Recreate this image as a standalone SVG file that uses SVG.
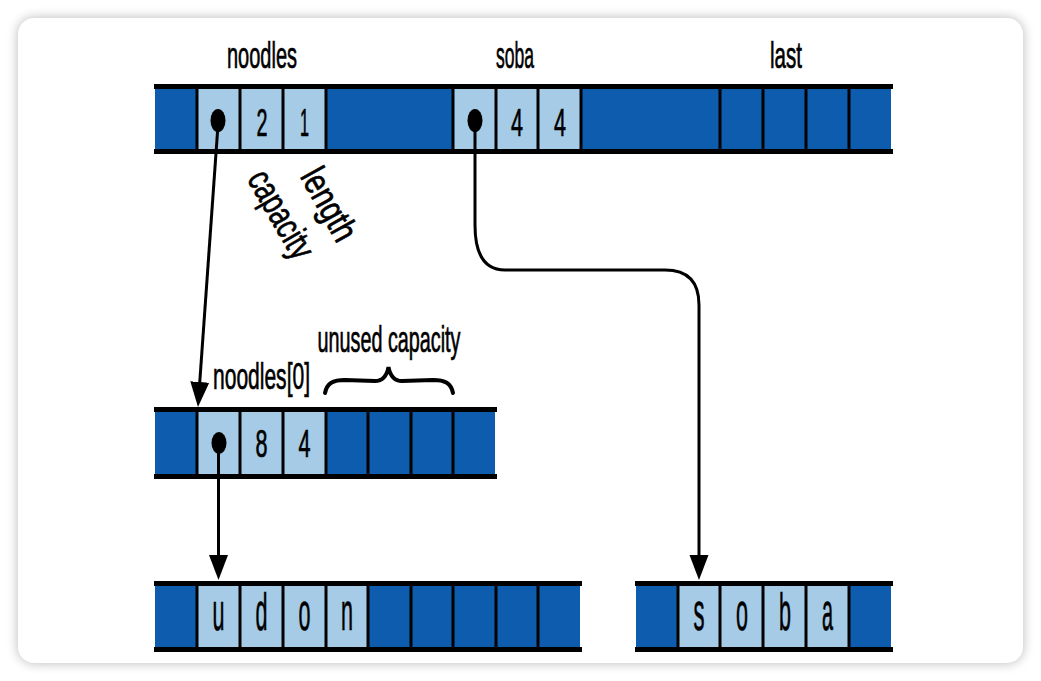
<svg xmlns="http://www.w3.org/2000/svg" width="1041" height="681" viewBox="0 0 1041 681">
<style>
.dk{fill:#0d5cae}
.lt{fill:#a6cbe6}
.dv{stroke:#000;stroke-width:3}
.rl{stroke:#000;stroke-width:5;stroke-linecap:butt}
.t{font-family:"Liberation Sans",Arial,sans-serif;fill:#000;stroke:#000;stroke-width:0.7;text-anchor:middle}
.lab{font-size:37px}
.dig{font-size:38px}
.let{font-size:51px}
.con{fill:none;stroke:#000;stroke-width:3}
</style>
<defs>
<filter id="sh" x="-5%" y="-5%" width="110%" height="110%"><feGaussianBlur stdDeviation="6"/></filter>
<marker id="ah" markerUnits="userSpaceOnUse" markerWidth="26" markerHeight="20" refX="5" refY="9.5" orient="auto" viewBox="0 0 26 19"><path d="M0,0 L25,9.5 L0,19 Z" fill="#000"/></marker>
</defs>
<rect width="1041" height="681" fill="#ffffff"/>
<rect x="18" y="18" width="1005" height="645" rx="16" fill="#000" opacity="0.28" filter="url(#sh)"/>
<rect x="18" y="18" width="1005" height="645" rx="16" fill="#ffffff"/>

<g id="labels-top">
<text class="t lab" x="262" y="68" textLength="70" lengthAdjust="spacingAndGlyphs">noodles</text>
<text class="t lab" x="515" y="68" textLength="38" lengthAdjust="spacingAndGlyphs">soba</text>
<text class="t lab" x="786" y="68" textLength="32" lengthAdjust="spacingAndGlyphs">last</text>
</g>

<g id="stack">
<rect class="dk" x="155" y="87" width="736" height="65"/>
<rect class="lt" x="197" y="87" width="129" height="65"/>
<rect class="lt" x="453" y="87" width="128" height="65"/>
<g class="dv">
<line x1="197" y1="87" x2="197" y2="152"/><line x1="240" y1="87" x2="240" y2="152"/><line x1="283" y1="87" x2="283" y2="152"/><line x1="326" y1="87" x2="326" y2="152"/>
<line x1="453" y1="87" x2="453" y2="152"/><line x1="496" y1="87" x2="496" y2="152"/><line x1="538" y1="87" x2="538" y2="152"/><line x1="581" y1="87" x2="581" y2="152"/>
<line x1="720" y1="87" x2="720" y2="152"/><line x1="763" y1="87" x2="763" y2="152"/><line x1="806" y1="87" x2="806" y2="152"/><line x1="849" y1="87" x2="849" y2="152"/>
</g>
<line class="rl" x1="154" y1="86.5" x2="893" y2="86.5"/>
<line class="rl" x1="154" y1="151.5" x2="893" y2="151.5"/>
<text class="t dig" x="262" y="136" textLength="11" lengthAdjust="spacingAndGlyphs">2</text>
<text class="t dig" x="304.5" y="136" textLength="9" lengthAdjust="spacingAndGlyphs">1</text>
<text class="t dig" x="517" y="136" textLength="12" lengthAdjust="spacingAndGlyphs">4</text>
<text class="t dig" x="560" y="136" textLength="12" lengthAdjust="spacingAndGlyphs">4</text>
<ellipse cx="218" cy="120.5" rx="7.5" ry="11.5"/>
<ellipse cx="475" cy="120.5" rx="7.5" ry="11.5"/>
</g>

<g id="field-labels">
<text class="t lab" transform="translate(280,215) rotate(60)" x="0" y="11" textLength="96" lengthAdjust="spacingAndGlyphs">capacity</text>
<text class="t lab" transform="translate(328,205) rotate(61)" x="0" y="11" textLength="78" lengthAdjust="spacingAndGlyphs">length</text>
</g>

<g id="heap-vec">
<rect class="dk" x="155" y="410" width="340" height="66"/>
<rect class="lt" x="197" y="410" width="129" height="66"/>
<g class="dv">
<line x1="197" y1="410" x2="197" y2="476"/><line x1="240" y1="410" x2="240" y2="476"/><line x1="283" y1="410" x2="283" y2="476"/><line x1="326" y1="410" x2="326" y2="476"/>
<line x1="368" y1="410" x2="368" y2="476"/><line x1="411" y1="410" x2="411" y2="476"/><line x1="453" y1="410" x2="453" y2="476"/>
</g>
<line class="rl" x1="154" y1="409.5" x2="497" y2="409.5"/>
<line class="rl" x1="154" y1="476.5" x2="497" y2="476.5"/>
<text class="t dig" x="261.5" y="457" textLength="12" lengthAdjust="spacingAndGlyphs">8</text>
<text class="t dig" x="304.5" y="457" textLength="12" lengthAdjust="spacingAndGlyphs">4</text>
<ellipse cx="219" cy="443" rx="7.5" ry="11"/>
<text class="t lab" x="261.5" y="389" textLength="97" lengthAdjust="spacingAndGlyphs">noodles[0]</text>
<text class="t lab" x="389" y="352" textLength="143" lengthAdjust="spacingAndGlyphs">unused capacity</text>
<path d="M325,393 C327,383 333,380 345,380 L375,381 C383,381 387,375 388.5,367 C390,375 394,381 402,381 L433,380 C445,380 451,383 453,393" fill="none" stroke="#000" stroke-width="4" stroke-linecap="round"/>
</g>

<g id="udon">
<rect class="dk" x="155" y="584" width="425" height="66"/>
<rect class="lt" x="197" y="584" width="171" height="66"/>
<g class="dv">
<line x1="197" y1="584" x2="197" y2="650"/><line x1="240" y1="584" x2="240" y2="650"/><line x1="283" y1="584" x2="283" y2="650"/><line x1="326" y1="584" x2="326" y2="650"/>
<line x1="368" y1="584" x2="368" y2="650"/><line x1="411" y1="584" x2="411" y2="650"/><line x1="453" y1="584" x2="453" y2="650"/><line x1="496" y1="584" x2="496" y2="650"/><line x1="538" y1="584" x2="538" y2="650"/>
</g>
<line class="rl" x1="154" y1="583.5" x2="582" y2="583.5"/>
<line class="rl" x1="154" y1="649.5" x2="582" y2="649.5"/>
<text class="t let" x="218.5" y="630" textLength="12" lengthAdjust="spacingAndGlyphs">u</text>
<text class="t let" x="261.5" y="630" textLength="12" lengthAdjust="spacingAndGlyphs">d</text>
<text class="t let" x="304.5" y="630" textLength="12" lengthAdjust="spacingAndGlyphs">o</text>
<text class="t let" x="347" y="630" textLength="12" lengthAdjust="spacingAndGlyphs">n</text>
</g>

<g id="soba-str">
<rect class="dk" x="636" y="584" width="255" height="66"/>
<rect class="lt" x="678" y="584" width="171" height="66"/>
<g class="dv">
<line x1="678" y1="584" x2="678" y2="650"/><line x1="720" y1="584" x2="720" y2="650"/><line x1="763" y1="584" x2="763" y2="650"/><line x1="806" y1="584" x2="806" y2="650"/><line x1="849" y1="584" x2="849" y2="650"/>
</g>
<line class="rl" x1="635" y1="583.5" x2="893" y2="583.5"/>
<line class="rl" x1="635" y1="649.5" x2="893" y2="649.5"/>
<text class="t let" x="699" y="630" textLength="11" lengthAdjust="spacingAndGlyphs">s</text>
<text class="t let" x="742" y="630" textLength="12" lengthAdjust="spacingAndGlyphs">o</text>
<text class="t let" x="785" y="630" textLength="12" lengthAdjust="spacingAndGlyphs">b</text>
<text class="t let" x="827.5" y="630" textLength="11" lengthAdjust="spacingAndGlyphs">a</text>
</g>

<g id="connectors">
<path class="con" d="M218,125 L199.4,387" marker-end="url(#ah)"/>
<path class="con" d="M475,125 V225 Q475,270 505,270 H665 Q699,270 699,305 V560" marker-end="url(#ah)"/>
<path class="con" d="M218.5,447 V560" marker-end="url(#ah)"/>
</g>
</svg>
